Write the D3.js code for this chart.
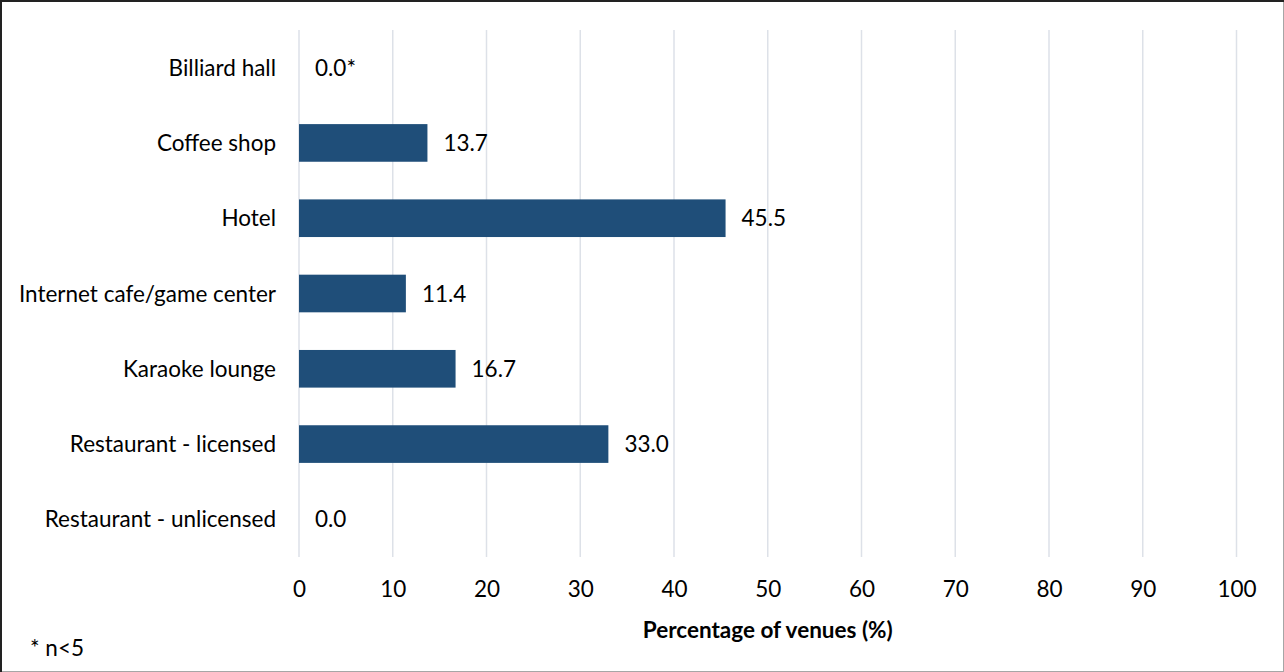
<!DOCTYPE html>
<html>
<head>
<meta charset="utf-8">
<script src="https://cdn.jsdelivr.net/npm/d3@7"></script>
<style>
  html, body { margin: 0; padding: 0; background: #fff; }
  svg { display: block; }
  text { font-family: Lato, "Open Sans", sans-serif; fill: #000; }
</style>
</head>
<body>
<svg id="chart" width="1284" height="672"></svg>
<script>
// Venue categories, top to bottom
const categories = [
  "Billiard hall",
  "Coffee shop",
  "Hotel",
  "Internet cafe/game center",
  "Karaoke lounge",
  "Restaurant - licensed",
  "Restaurant - unlicensed"
];
// Percentage of venues per category
const values = [0.0, 13.7, 45.5, 11.4, 16.7, 33.0, 0.0];
// Label suffix (small-sample flag)
const labelSuffix = ["*", "", "", "", "", "", ""];
// Axis ticks
const xTicks = [0, 10, 20, 30, 40, 50, 60, 70, 80, 90, 100];
const axisTitle = "Percentage of venues (%)";
const footnote = "* n<5";

const W = 1284, H = 672;
const plotLeft = 299, plotRight = 1236.5, plotTop = 30, plotBottom = 557;
const fs = 22.5;

const svg = d3.select("#chart");

// Outer frame
svg.append("rect").attr("x", 0.5).attr("y", 0.5).attr("width", W - 1).attr("height", H - 1)
  .attr("fill", "#fff").attr("stroke", "#a6a6a6").attr("stroke-width", 1);
svg.append("line").attr("x1", 0).attr("x2", W).attr("y1", 1).attr("y2", 1)
  .attr("stroke", "#222").attr("stroke-width", 2);
svg.append("line").attr("x1", 1).attr("x2", 1).attr("y1", 0).attr("y2", H)
  .attr("stroke", "#222").attr("stroke-width", 2);

const x = d3.scaleLinear().domain([0, 100]).range([plotLeft, plotRight]);
const y = d3.scaleBand().domain(categories).range([plotTop, plotBottom]).paddingInner(0.5).paddingOuter(0.25);

// Vertical gridlines
svg.append("g").selectAll("line").data(xTicks).join("line")
  .attr("x1", d => x(d)).attr("x2", d => x(d))
  .attr("y1", plotTop).attr("y2", plotBottom)
  .attr("stroke", "#dde1e8").attr("stroke-width", 1.5);

// Bars
svg.append("g").selectAll("rect").data(values).join("rect")
  .attr("x", x(0))
  .attr("y", (d, i) => y(categories[i]))
  .attr("width", d => x(d) - x(0))
  .attr("height", y.bandwidth())
  .attr("fill", "#1f4e79");

// Value labels
svg.append("g").selectAll("text").data(values).join("text")
  .attr("x", d => x(d) + 16)
  .attr("y", (d, i) => y(categories[i]) + y.bandwidth() / 2)
  .attr("dy", "0.36em")
  .attr("font-size", fs)
  .text((d, i) => d.toFixed(1) + labelSuffix[i]);

// Category axis labels
svg.append("g").selectAll("text").data(categories).join("text")
  .attr("x", plotLeft - 23)
  .attr("y", d => y(d) + y.bandwidth() / 2)
  .attr("dy", "0.36em")
  .attr("text-anchor", "end")
  .attr("font-size", fs)
  .text(d => d);

// X axis tick labels
const xAxis = d3.axisBottom(x).tickValues(xTicks).tickSize(0).tickPadding(0).tickFormat(d3.format("d"));
const gx = svg.append("g").attr("transform", `translate(0,${plotBottom + 40})`).call(xAxis);
gx.select(".domain").remove();
gx.selectAll("text").attr("dy", null).attr("font-size", fs)
  .attr("font-family", "Lato, 'Open Sans', sans-serif").attr("fill", "#000");

// Axis title
svg.append("text")
  .attr("x", (plotLeft + plotRight) / 2).attr("y", 638)
  .attr("text-anchor", "middle")
  .attr("font-size", fs).attr("font-weight", "bold")
  .text(axisTitle);

// Footnote
svg.append("text")
  .attr("x", 30).attr("y", 656)
  .attr("font-size", fs)
  .text(footnote);
</script>
</body>
</html>
